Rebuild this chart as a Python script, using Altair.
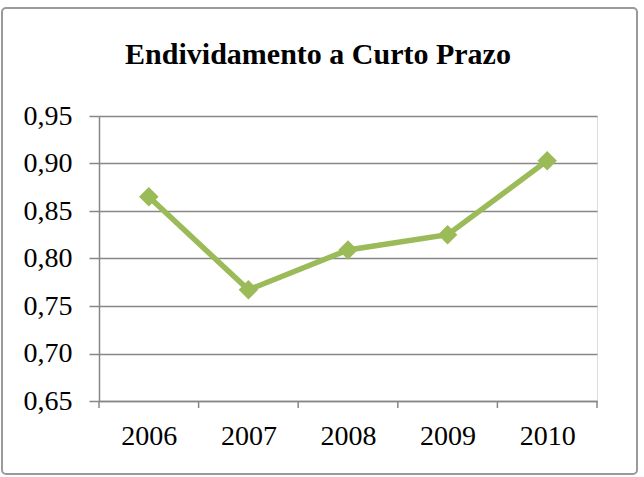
import altair as alt
import pandas as pd

years = [2006, 2007, 2008, 2009, 2010]
values = [0.865, 0.767, 0.809, 0.825, 0.903]
y_ticks = [0.65, 0.70, 0.75, 0.80, 0.85, 0.90, 0.95]
x_edges = [2005.5, 2006.5, 2007.5, 2008.5, 2009.5, 2010.5]

df = pd.DataFrame({"ano": years, "valor": values})
edges = pd.DataFrame({"edge": x_edges})
frame = pd.DataFrame({"k": [0]})

FONT = "Liberation Serif"
GREEN = "#9BBB59"
GRAY = "#878787"

x_scale = alt.Scale(domain=[2005.5, 2010.5], nice=False, zero=False)
y_scale = alt.Scale(domain=[0.65, 0.95], nice=False, zero=False)

border = alt.Chart(frame).mark_rect(
    fillOpacity=0, stroke="#9a9a9a", strokeWidth=2, cornerRadius=4
).encode(
    x=alt.value(-97), x2=alt.value(538), y=alt.value(-108), y2=alt.value(358)
)

line = alt.Chart(df).mark_line(color=GREEN, strokeWidth=5.5).encode(
    x=alt.X("ano:Q", scale=x_scale,
            axis=alt.Axis(values=years, format="d", ticks=False, grid=False,
                          title=None, domainColor=GRAY, domainWidth=1.5,
                          labelFont=FONT, labelFontSize=28, labelColor="#000",
                          labelPadding=21)),
    y=alt.Y("valor:Q", scale=y_scale,
            axis=alt.Axis(values=y_ticks, title=None, grid=True,
                          gridColor=GRAY, gridWidth=1.5, tickColor=GRAY,
                          tickWidth=1.5, tickSize=10, domainColor=GRAY,
                          domainWidth=1.5, labelFont=FONT, labelFontSize=28,
                          labelColor="#000", labelPadding=17,
                          labelExpr="replace(format(datum.value, '.2f'), '.', ',')")),
)

points = alt.Chart(df).mark_point(
    shape="diamond", filled=True, color=GREEN, size=380, opacity=1
).encode(
    x=alt.X("ano:Q", scale=x_scale),
    y=alt.Y("valor:Q", scale=y_scale),
)

ticks = alt.Chart(edges).mark_rule(color=GRAY, strokeWidth=1.5).encode(
    x=alt.X("edge:Q", scale=x_scale),
    y=alt.value(285),
    y2=alt.value(292),
)

chart = alt.layer(border, ticks, line, points).properties(
    width=498,
    height=285,
    title=alt.TitleParams(
        "Endividamento a Curto Prazo",
        font=FONT, fontSize=30, fontWeight="bold", color="#000",
        anchor="middle", dx=-30, offset=-87, baseline="alphabetic",
    ),
    padding={"left": 99, "top": 116, "right": 47, "bottom": 76},
    autosize=alt.AutoSizeParams(type="none"),
).configure_view(stroke=None).configure(background="white")

chart.save("out.html", embed_options={"renderer": "svg", "actions": False})
